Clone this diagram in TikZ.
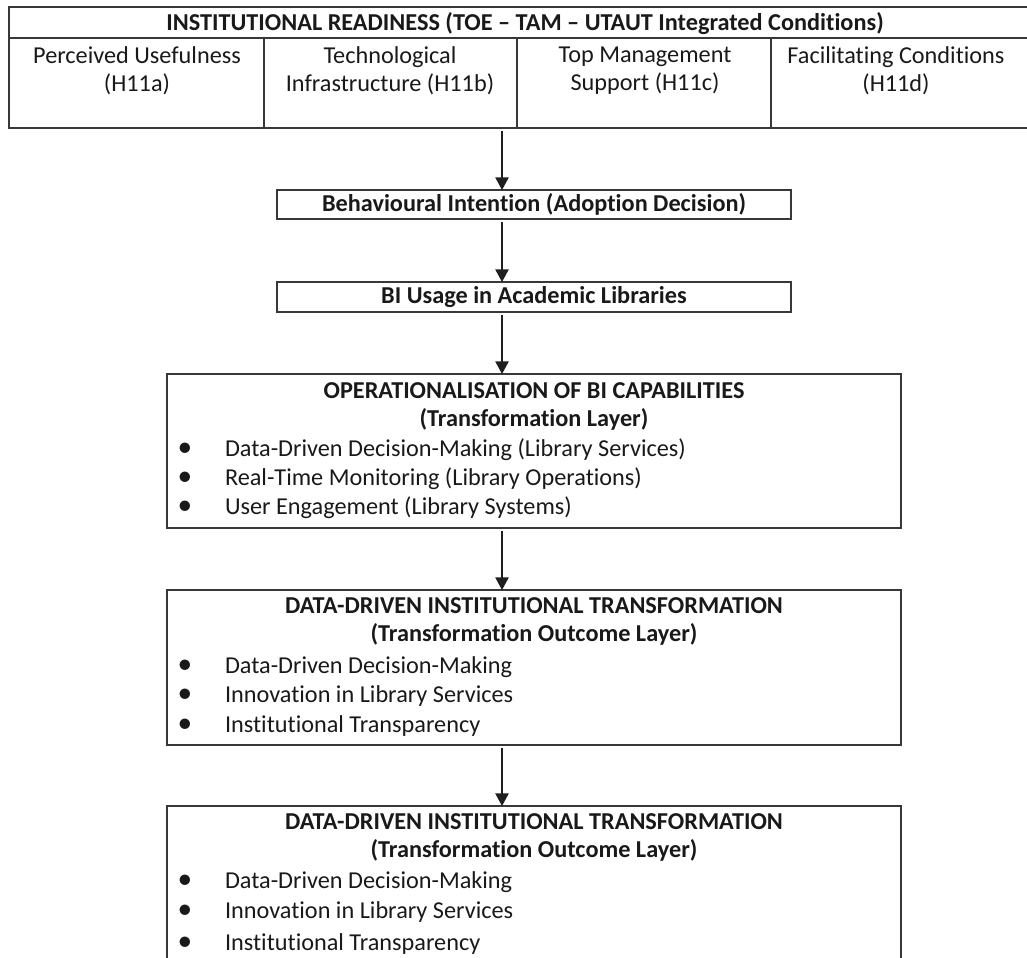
\documentclass[tikz,border=0pt]{standalone}
\usepackage{fontspec}
\setmainfont[Ligatures=NoCommon]{Carlito}
\usetikzlibrary{arrows.meta,fit}
\begin{document}
\begin{tikzpicture}[x=0.75pt,y=-0.75pt,
  every node/.style={inner sep=0pt, outer sep=0pt, text=black!90},
  txt/.style={font=\fontsize{18.2}{21.5}\selectfont, text height=13.5pt, text depth=3.6pt},
  btxt/.style={txt, font=\fontsize{18.2}{21.5}\selectfont\bfseries},
  celltxt/.style={font=\fontsize{18.2}{21}\selectfont, align=center},
  frame/.style={draw=black!78, line width=1.1pt, fit={#1}},
  dot/.style={font=\fontsize{22}{24}\selectfont},
  arr/.style={-{Triangle[width=10pt,length=9.5pt]}, line width=1pt, draw=black!88, shorten <=2.5pt}
]
\useasboundingbox (0,0) rectangle (1027,957);
\clip (0,0) rectangle (1027,957);

% table
\node[frame={(9,7) (1028,38)}] (hdr) {};
\node[frame={(9,38) (264,128)}] (c1) {};
\node[frame={(264,38) (517,128)}] (c2) {};
\node[frame={(517,38) (771,128)}] (c3) {};
\node[frame={(771,38) (1028,128)}] (c4) {};
\node[btxt] (hdrt) at (525,24) {INSTITUTIONAL READINESS (TOE – TAM – UTAUT Integrated Conditions)};
\node[celltxt] (t1) at (137,70.5) {Perceived Usefulness\\(H11a)};
\node[celltxt] (t2) at (390,70.5) {Technological\\Infrastructure (H11b)};
\node[celltxt] (t3) at (645,70.5) {Top Management\\Support (H11c)};
\node[celltxt] (t4) at (896,70.5) {Facilitating Conditions\\(H11d)};

% middle boxes
\node[frame={(277,190) (791,219)}] (bi) {};
\node[btxt] (bit) at (534,205) {Behavioural Intention (Adoption Decision)};
\node[frame={(277,282) (791,312)}] (use) {};
\node[btxt] (uset) at (534,297) {BI Usage in Academic Libraries};

% operationalisation box
\node[frame={(167,374) (901,528)}] (op) {};
\node[btxt] (opt) at (534,392) {OPERATIONALISATION OF BI CAPABILITIES};
\node[btxt] (ops) at (534,420) {(Transformation Layer)};
\node[dot] (opd1) at (185,450) {•};
\node[txt, anchor=west] (opb1) at (225,450) {Data-Driven Decision-Making (Library Services)};
\node[dot] (opd2) at (185,479) {•};
\node[txt, anchor=west] (opb2) at (225,479) {Real-Time Monitoring (Library Operations)};
\node[dot] (opd3) at (185,508) {•};
\node[txt, anchor=west] (opb3) at (225,508) {User Engagement (Library Systems)};

% data-driven box 1
\node[frame={(167,590) (901,745)}] (dd) {};
\node[btxt] (ddt) at (534,607) {DATA-DRIVEN INSTITUTIONAL TRANSFORMATION};
\node[btxt] (dds) at (534,635) {(Transformation Outcome Layer)};
\node[dot] (ddd1) at (185,667) {•};
\node[txt, anchor=west] (ddb1) at (225,667) {Data-Driven Decision-Making};
\node[dot] (ddd2) at (185,696) {•};
\node[txt, anchor=west] (ddb2) at (225,696) {Innovation in Library Services};
\node[dot] (ddd3) at (185,726) {•};
\node[txt, anchor=west] (ddb3) at (225,726) {Institutional Transparency};

% data-driven box 2 (cut by the lower edge)
\node[frame={(167,806) (901,975)}] (de) {};
\node[btxt] (det) at (534,823) {DATA-DRIVEN INSTITUTIONAL TRANSFORMATION};
\node[btxt] (des) at (534,851) {(Transformation Outcome Layer)};
\node[dot] (ded1) at (185,882) {•};
\node[txt, anchor=west] (deb1) at (225,882) {Data-Driven Decision-Making};
\node[dot] (ded2) at (185,912) {•};
\node[txt, anchor=west] (deb2) at (225,912) {Innovation in Library Services};
\node[dot] (ded3) at (185,944) {•};
\node[txt, anchor=west] (deb3) at (225,944) {Institutional Transparency};

% connectors
\coordinate (ax) at (502,0);
\draw[arr] (c2.south -| ax) -- (bi.north -| ax);
\draw[arr] (bi.south -| ax) -- (use.north -| ax);
\draw[arr] (use.south -| ax) -- (op.north -| ax);
\draw[arr] (op.south -| ax) -- (dd.north -| ax);
\draw[arr] (dd.south -| ax) -- (de.north -| ax);
\end{tikzpicture}
\end{document}
